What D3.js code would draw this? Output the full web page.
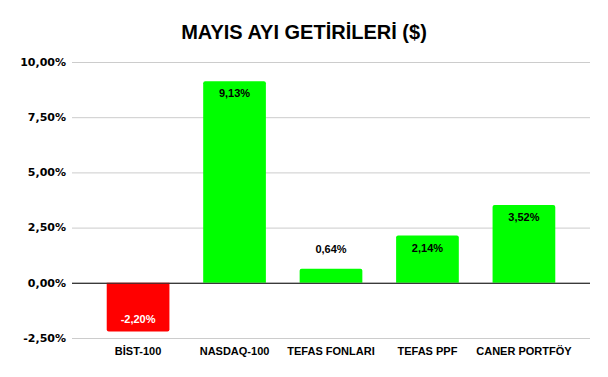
<!DOCTYPE html>
<html>
<head>
<meta charset="utf-8">
<script src="https://cdn.jsdelivr.net/npm/d3@7"></script>
<style>
  body { margin: 0; background: #fff; }
  text { font-family: "Liberation Sans", Arial, sans-serif; }
</style>
</head>
<body>
<script>
var w = 608;
var h = 377;

var categories = ["BİST-100", "NASDAQ-100", "TEFAS FONLARI", "TEFAS PPF", "CANER PORTFÖY"];
var values = [-2.20, 9.13, 0.64, 2.14, 3.52];
var ticks = [-2.5, 0, 2.5, 5, 7.5, 10];

var trLocale = d3.formatLocale({decimal: ",", thousands: ".", grouping: [3], currency: ["", "$"], minus: "-"});
var fmt = v => trLocale.format(".2f")(v) + "%";

var dataset = categories.map((c, i) => ({name: c, value: values[i]}));

var xScale = d3.scaleBand()
    .domain(categories)
    .range([72, 590])
    .paddingInner(0.35)
    .paddingOuter(0.36);

var yScale = d3.scaleLinear()
    .domain([-2.5, 10])
    .range([338, 62]);

var svg = d3.select("body")
    .append("svg")
    .attr("width", w)
    .attr("height", h);

svg.append("text")
    .attr("x", w / 2)
    .attr("y", 39)
    .attr("text-anchor", "middle")
    .attr("font-size", 20)
    .attr("font-weight", "bold")
    .attr("fill", "#000")
    .text("MAYIS AYI GETİRİLERİ ($)");

// grid lines
svg.selectAll("line.grid")
    .data(ticks)
    .enter()
    .append("line")
    .attr("class", "grid")
    .attr("x1", 72)
    .attr("x2", 590)
    .attr("y1", d => yScale(d) + 0.5)
    .attr("y2", d => yScale(d) + 0.5)
    .attr("stroke", d => d === 0 ? "#333" : "#ccc")
    .attr("stroke-width", 1);

svg.selectAll("text.tick")
    .data(ticks)
    .enter()
    .append("text")
    .attr("class", "tick")
    .attr("x", 66)
    .attr("y", d => yScale(d))
    .attr("dy", "0.35em")
    .attr("text-anchor", "end")
    .style("font-family", "'DejaVu Sans', sans-serif")
    .attr("font-size", 11)
    .attr("font-weight", "bold")
    .attr("fill", "#000")
    .text(d => fmt(d));

var r = 2;
function barPath(d) {
    var x0 = xScale(d.name), x1 = x0 + xScale.bandwidth();
    var y0 = yScale(0), y1 = yScale(d.value);
    var s = d.value >= 0 ? 1 : -1;
    return "M" + x0 + "," + y0 +
        "L" + x0 + "," + (y1 + s * r) +
        "Q" + x0 + "," + y1 + " " + (x0 + r) + "," + y1 +
        "L" + (x1 - r) + "," + y1 +
        "Q" + x1 + "," + y1 + " " + x1 + "," + (y1 + s * r) +
        "L" + x1 + "," + y0 + "Z";
}

svg.selectAll("path.bar")
    .data(dataset)
    .enter()
    .append("path")
    .attr("class", "bar")
    .attr("d", barPath)
    .attr("fill", d => d.value < 0 ? "#ff0000" : "#00ff00");

// redraw zero line over bars
svg.append("line")
    .attr("x1", 72)
    .attr("x2", 590)
    .attr("y1", yScale(0) + 0.5)
    .attr("y2", yScale(0) + 0.5)
    .attr("stroke", "#333");

svg.selectAll("text.val")
    .data(dataset)
    .enter()
    .append("text")
    .attr("class", "val")
    .attr("x", d => xScale(d.name) + xScale.bandwidth() / 2)
    .attr("y", d => {
        if (d.value < 0) return yScale(d.value) - 8;
        if (yScale(0) - yScale(d.value) < 25) return yScale(d.value) - 16;
        return yScale(d.value) + 16;
    })
    .attr("text-anchor", "middle")
    .attr("font-size", 11)
    .attr("font-weight", "bold")
    .attr("fill", d => d.value < 0 ? "#fff" : "#000")
    .text(d => fmt(d.value));

svg.selectAll("text.cat")
    .data(categories)
    .enter()
    .append("text")
    .attr("class", "cat")
    .attr("x", d => xScale(d) + xScale.bandwidth() / 2)
    .attr("y", 355)
    .attr("text-anchor", "middle")
    .attr("font-size", 11)
    .attr("font-weight", "bold")
    .attr("fill", "#000")
    .text(d => d);
</script>
</body>
</html>
